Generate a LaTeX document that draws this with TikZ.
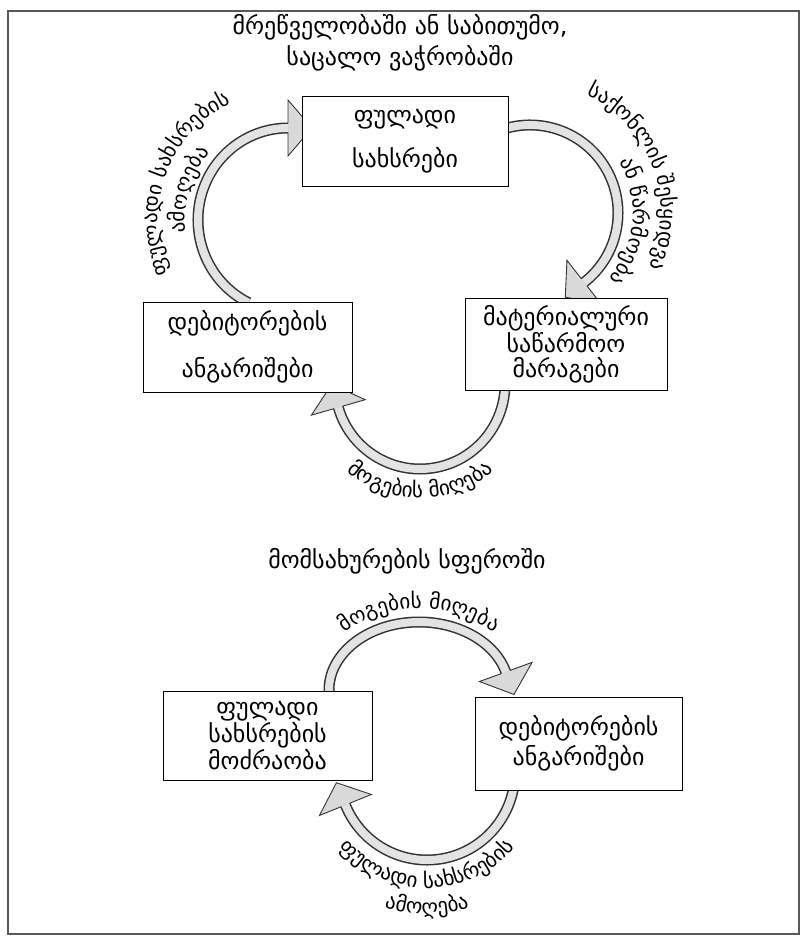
\documentclass[tikz,border=0pt]{standalone}
\usepackage{fontspec}
\setmainfont{DejaVu Sans}
\usetikzlibrary{calc,decorations.text}

\newcommand\lblfont{\fontsize{21}{24}\selectfont}

% curved flow band: #1 centre, #2 start angle, #3 end angle, #4 x radius, #5 y radius
\newcommand\flowband[5]{%
  \foreach \sty in {bandedge,bandfill}
    \draw[\sty] ($(#1)+({#4*cos(#2)},{#5*sin(#2)})$)
      arc[start angle=#2,end angle=#3,x radius=#4,y radius=#5];}

% broad hollow arrow head: #1 base point, #2 direction
\newcommand\flowhead[2]{%
  \begin{scope}[shift={(#1)},rotate=#2]
    \filldraw[headshape] (0,4.5) -- (0,28) -- (24,0) -- (0,-28) -- (0,-4.5);
  \end{scope}}

\tikzset{
  x=1pt, y=1pt,
  frame/.style={draw=black!65, line width=1.2pt},
  caption/.style={font=\fontsize{24}{31}\selectfont, align=center, inner sep=0pt},
  box/.style={draw=black, line width=1pt, fill=white, align=center, inner sep=0pt,
              font=\fontsize{24}{#1}\selectfont},
  bandedge/.style={line width=11pt, draw=black!80},
  bandfill/.style={line width=8pt, draw=gray!22},
  headshape/.style={fill=gray!30, draw=black!80, line width=0.9pt, line join=miter},
  arclabel/.style={decorate, decoration={text along path, text align=center,
                   text={|\lblfont|#1}}},
}

\begin{document}
\begin{tikzpicture}
\useasboundingbox (0,0) rectangle (802,-936);
\draw[frame] (8,-11) rectangle (799,-934);

% headings
\node[caption] (head1) at (400,-43) {მრეწველობაში ან საბითუმო,\\საცალო ვაჭრობაში};
\node[caption] (head2) at (407,-561) {მომსახურების სფეროში};

% centres of the curved flows
\coordinate (c1) at (288,-220);
\coordinate (c2) at (530,-213);
\coordinate (c3) at (420,-384);
\coordinate (c4) at (419,-690);
\coordinate (c5) at (427,-772);

% ---- industry / trade cycle ----
\flowband{c1}{244}{90}{90}{92}
\coordinate (h1) at ($(c1)+(0,92)$);
\flowhead{h1}{0}

\flowband{c2}{108}{-52}{88}{88}
\coordinate (h2) at ($(c2)+(-52:88)$);
\flowhead{h2}{-142}

\flowband{c3}{5}{-164}{85}{85}
\coordinate (h3) at ($(c3)+(-164:85)$);
\flowhead{h3}{106}

% ---- service cycle ----
\flowband{c4}{182}{15.4}{90}{68}
\coordinate (h4) at ($(c4)+({90*cos(15.4)},{68*sin(15.4)})$);
\flowhead{h4}{-70}

\flowband{c5}{0}{-158}{88}{88}
\coordinate (h5) at ($(c5)+(-158:88)$);
\flowhead{h5}{112}

% boxes
\node[box=44, minimum width=206, minimum height=89] (cash1) at (405,-141.5)
  {ფულადი\\სახსრები};
\node[box=47, minimum width=209, minimum height=90] (debt1) at (247.5,-347)
  {დებიტორების\\ანგარიშები};
\node[box=25, minimum width=202, minimum height=92] (stock1) at (566,-344)
  {მატერიალური\\საწარმოო\\მარაგები};
\node[box=27, minimum width=209, minimum height=89] (cash2) at (267.5,-735.5)
  {ფულადი\\სახსრების\\მოძრაობა};
\node[box=30, minimum width=207, minimum height=93] (debt2) at (578.5,-743.5)
  {დებიტორების\\ანგარიშები};

% flow labels
\path[arclabel={ფულადი სახსრების}] ($(c1)+(235:130)$) arc[start angle=235,end angle=85,radius=130];
\path[arclabel={ამოღება}] ($(c1)+(205:103)$) arc[start angle=205,end angle=121,radius=103];

\path[arclabel={საქონლის შესყიდვა}] ($(c2)+(100:131)$) arc[start angle=100,end angle=-60,radius=131];
\path[arclabel={ან წარმოება}] ($(c2)+(60:103)$) arc[start angle=60,end angle=-70,radius=103];

\path[arclabel={მოგების მიღება}] ($(c3)+(205:114)$) arc[start angle=205,end angle=335,radius=114];

\path[arclabel={მოგების მიღება}] ($(c4)+({104*cos(170)},{82*sin(170)})$)
  arc[start angle=170,end angle=10,x radius=104,y radius=82];

\path[arclabel={ფულადი სახსრების}] ($(c5)+(200:116)$) arc[start angle=200,end angle=340,radius=116];
\path[arclabel={ამოღება}] ($(c5)+(230:142)$) arc[start angle=230,end angle=310,radius=142];
\end{tikzpicture}
\end{document}
